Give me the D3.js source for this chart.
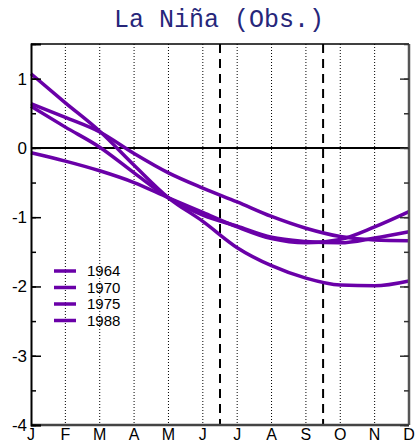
<!DOCTYPE html>
<html>
<head>
<meta charset="utf-8">
<script src="https://d3js.org/d3.v7.min.js"></script>
<style>
  body { margin: 0; background: #fff; }
</style>
</head>
<body>
<svg id="nina" width="417" height="444"></svg>
<script>
// Data
var months = ["J", "F", "M", "A", "M", "J", "J", "A", "S", "O", "N", "D"];
var years = ["1964", "1970", "1975", "1988"];
var v1964 = [1.07, 0.65, 0.24, -0.25, -0.72, -1.06, -1.44, -1.70, -1.88, -1.98, -1.99, -1.92];
var v1970 = [0.64, 0.44, 0.23, -0.08, -0.36, -0.58, -0.78, -0.99, -1.16, -1.28, -1.33, -1.34];
var v1975 = [0.60, 0.30, 0.01, -0.36, -0.72, -0.97, -1.13, -1.29, -1.35, -1.37, -1.30, -1.21];
var v1988 = [-0.07, -0.19, -0.33, -0.50, -0.72, -0.93, -1.14, -1.31, -1.37, -1.32, -1.14, -0.92];
var yTicks = [1, 0, -1, -2, -3, -4];
var seasonBreaks = [5.5, 8.5];

var series = [v1964, v1970, v1975, v1988];

var svg = d3.select("#nina"),
    margin = {top: 44, right: 8, bottom: 19, left: 31},
    width = +svg.attr("width") - margin.left - margin.right,
    height = +svg.attr("height") - margin.top - margin.bottom,
    g = svg.append("g").attr("transform", "translate(" + margin.left + "," + margin.top + ")");

var x = d3.scaleLinear().domain([0, months.length - 1]).range([0, width]);
var y = d3.scaleLinear().domain([-4, 1.5]).range([height, 0]);

var purple = "#6a00a8";

// dotted month grid
g.append("g")
  .selectAll("line")
  .data(d3.range(1, months.length - 1))
  .enter().append("line")
    .attr("x1", function(d) { return x(d); })
    .attr("x2", function(d) { return x(d); })
    .attr("y1", 0)
    .attr("y2", height)
    .attr("stroke", "#000")
    .attr("stroke-width", 1)
    .attr("stroke-dasharray", "1,2");

// dashed season breaks
g.append("g")
  .selectAll("line")
  .data(seasonBreaks)
  .enter().append("line")
    .attr("x1", function(d) { return x(d); })
    .attr("x2", function(d) { return x(d); })
    .attr("y1", 0)
    .attr("y2", height)
    .attr("stroke", "#000")
    .attr("stroke-width", 2)
    .attr("stroke-dasharray", "9,6");

// zero line
g.append("line")
  .attr("x1", 0).attr("x2", width)
  .attr("y1", y(0)).attr("y2", y(0))
  .attr("stroke", "#000")
  .attr("stroke-width", 2);

// series lines
var line = d3.line()
  .x(function(d, i) { return x(i); })
  .y(function(d) { return y(d); })
  .curve(d3.curveMonotoneX);

g.append("g")
  .selectAll("path")
  .data(series)
  .enter().append("path")
    .attr("d", line)
    .attr("fill", "none")
    .attr("stroke", purple)
    .attr("stroke-width", 3.5)
    .attr("stroke-linejoin", "round");

// frame: left/top black, right/bottom grey
g.append("line").attr("x1", 0).attr("x2", width).attr("y1", 0).attr("y2", 0)
  .attr("stroke", "#000").attr("stroke-width", 1.5);
g.append("line").attr("x1", width).attr("x2", width).attr("y1", 0).attr("y2", height)
  .attr("stroke", "#555").attr("stroke-width", 2.5);
g.append("line").attr("x1", 0).attr("x2", width).attr("y1", height).attr("y2", height)
  .attr("stroke", "#444").attr("stroke-width", 2.5);

// left axis with inward ticks
g.append("g")
    .call(d3.axisLeft(y).tickValues(d3.range(-4, 1.51, 0.5)).tickSize(-5).tickFormat(""))
    .call(function(a) { a.select(".domain").remove(); })
    .selectAll("line").attr("stroke-width", 1.5);
g.append("g")
    .call(d3.axisLeft(y).tickValues(yTicks).tickSize(-10).tickFormat(function(d) { return String(d); }))
    .call(function(a) { a.select(".domain").attr("stroke-width", 2); })
    .call(function(a) {
      a.selectAll("line").attr("stroke-width", 1.5);
      a.selectAll("text")
        .attr("x", -4)
        .attr("text-anchor", "end")
        .attr("font-family", "Liberation Sans, Arial, sans-serif")
        .attr("font-size", 17)
        .attr("fill", "#000");
    });

// right axis with inward ticks
g.append("g")
    .attr("transform", "translate(" + width + ",0)")
    .call(d3.axisRight(y).tickValues(d3.range(-4, 1.51, 0.5)).tickSize(-5).tickFormat(""))
    .call(function(a) { a.select(".domain").remove(); })
    .selectAll("line").attr("stroke", "#333").attr("stroke-width", 1.5);
g.append("g")
    .attr("transform", "translate(" + width + ",0)")
    .call(d3.axisRight(y).tickValues(yTicks).tickSize(-9).tickFormat(""))
    .call(function(a) { a.select(".domain").remove(); })
    .selectAll("line").attr("stroke", "#333").attr("stroke-width", 1.5);

// month labels
g.append("g")
  .selectAll("text")
  .data(months)
  .enter().append("text")
    .attr("x", function(d, i) { return x(i); })
    .attr("y", height + 15)
    .attr("text-anchor", "middle")
    .attr("font-family", "Liberation Sans, Arial, sans-serif")
    .attr("font-size", 16)
    .text(function(d) { return d; });

// legend
var legend = g.append("g")
  .selectAll("g")
  .data(years)
  .enter().append("g")
    .attr("transform", function(d, i) { return "translate(23," + (227 + i * 16.5) + ")"; });

legend.append("line")
  .attr("x1", 0).attr("x2", 22)
  .attr("stroke", purple)
  .attr("stroke-width", 3.5);

legend.append("text")
  .attr("x", 33)
  .attr("dy", "0.36em")
  .attr("font-family", "Liberation Sans, Arial, sans-serif")
  .attr("font-size", 15)
  .text(function(d) { return d; });

// title
svg.append("text")
  .attr("x", 219)
  .attr("y", 27)
  .attr("text-anchor", "middle")
  .attr("font-family", "Liberation Mono, Courier New, monospace")
  .attr("font-size", 25)
  .attr("fill", "#26267a")
  .text("La Niña (Obs.)");
</script>
</body>
</html>
